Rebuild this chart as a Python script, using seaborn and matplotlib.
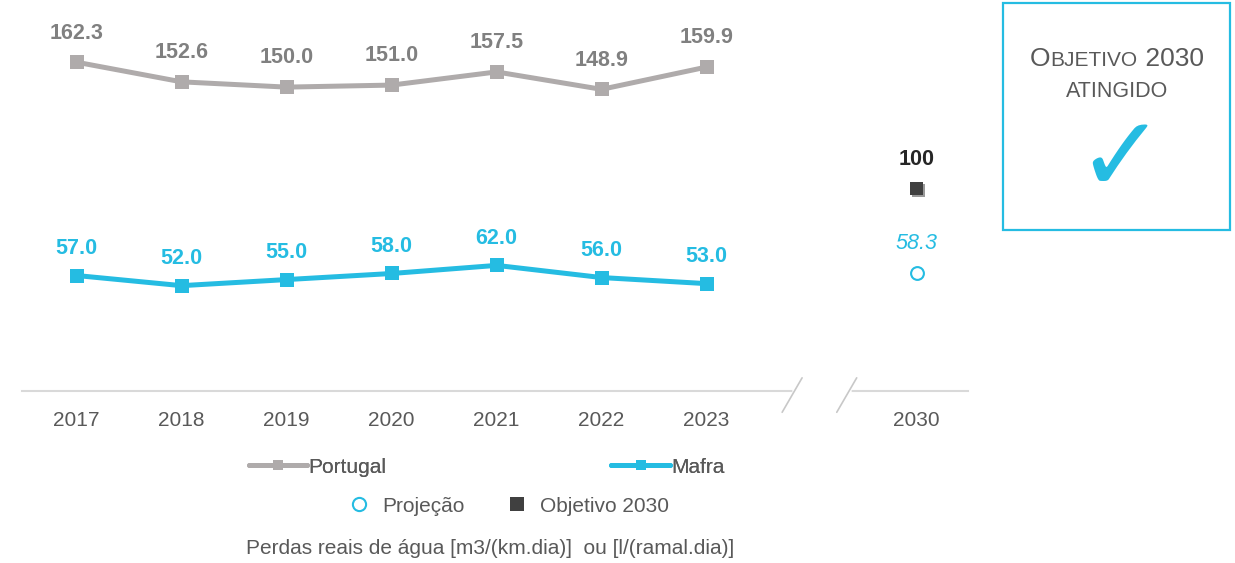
import pandas as pd
import matplotlib
matplotlib.use('Agg')
import matplotlib.pyplot as plt
import matplotlib.patheffects as pe
from matplotlib.lines import Line2D
from matplotlib.patches import Rectangle
from matplotlib.offsetbox import TextArea, HPacker, AnnotationBbox
import seaborn as sns

# Dados
anos = ['2017', '2018', '2019', '2020', '2021', '2022', '2023']
portugal = [162.3, 152.6, 150.0, 151.0, 157.5, 148.9, 159.9]
mafra = [57.0, 52.0, 55.0, 58.0, 62.0, 56.0, 53.0]
ano_meta = '2030'
projecao = [58.3]
objetivo = [100]

COR_PT = '#AFABAB'
COR_PT_TXT = '#808080'
COR_MF = '#25BCE2'
COR_OBJ = '#404040'
COR_TXT = '#595959'

sns.set_theme(style='white')
plt.rcParams['font.family'] = ['Liberation Sans', 'DejaVu Sans']

pos = list(range(len(anos)))
pos_meta = len(anos) + 1

df = pd.DataFrame({
    'pos': pos * 2,
    'valor': portugal + mafra,
    'serie': ['Portugal'] * len(anos) + ['Mafra'] * len(anos),
})

fig = plt.figure(figsize=(12.35, 5.63), dpi=100)
ax = fig.add_axes([0.0178, 0.3055, 0.7660, 0.6945])

sns.lineplot(data=df, x='pos', y='valor', hue='serie',
             palette={'Portugal': COR_PT, 'Mafra': COR_MF},
             marker='s', markersize=10, markeredgewidth=0, linewidth=3.6,
             legend=False, ax=ax)

df_meta = pd.DataFrame({'pos': [pos_meta], 'proj': projecao, 'obj': objetivo})
sns.scatterplot(data=df_meta, x='pos', y='proj', marker='o', s=85,
                facecolor='white', edgecolor=COR_MF, linewidth=1.5, ax=ax, zorder=4)
sns.scatterplot(data=df_meta, x='pos', y='obj', marker='s', s=85,
                color=COR_OBJ, linewidth=0, ax=ax, zorder=4)
ax.collections[-1].set_path_effects([pe.SimplePatchShadow(offset=(1.5, -1.5), shadow_rgbFace='#999999', alpha=1), pe.Normal()])

# rotulos de dados
for x, v in zip(pos, portugal):
    ax.annotate(f'{v:.1f}', (x, v), xytext=(0, 21), textcoords='offset points',
                ha='center', va='center', fontsize=15.5, fontweight='bold', color=COR_PT_TXT)
for x, v in zip(pos, mafra):
    ax.annotate(f'{v:.1f}', (x, v), xytext=(0, 19.5), textcoords='offset points',
                ha='center', va='center', fontsize=15.5, fontweight='bold', color=COR_MF)
ax.annotate(f'{projecao[0]:.1f}', (pos_meta, projecao[0]), xytext=(0, 21), textcoords='offset points',
            ha='center', va='center', fontsize=15.5, style='italic', color=COR_MF)
ax.annotate(f'{objetivo[0]}', (pos_meta, objetivo[0]), xytext=(0, 21), textcoords='offset points',
            ha='center', va='center', fontsize=15.5, fontweight='bold', color='#262626')

ax.set_xlim(-0.52, 8.49)
ax.set_ylim(0, 193)
ax.set_xticks(pos + [pos_meta])
ax.set_xticklabels(anos + [ano_meta])
ax.tick_params(axis='x', length=0, pad=14.5, labelsize=15, labelcolor=COR_TXT)
ax.set_yticks([])
ax.set_xlabel('')
ax.set_ylabel('')
for s in ['left', 'right', 'top']:
    ax.spines[s].set_visible(False)
ax.spines['bottom'].set_color('#D9D9D9')
ax.spines['bottom'].set_linewidth(1.5)

# quebra do eixo
ax.plot([6.84, 7.36], [0, 0], color='white', linewidth=4, clip_on=False, zorder=5)
for x0 in [6.72, 7.24]:
    ax.plot([x0, x0 + 0.19], [-10.5, 6.5], color='#C8C8C8', linewidth=1.2, clip_on=False, zorder=6)

# legendas
h_pt = Line2D([], [], color=COR_PT, linewidth=3.6, marker='s', markersize=7, markeredgewidth=0)
h_mf = Line2D([], [], color=COR_MF, linewidth=3.6, marker='s', markersize=7, markeredgewidth=0)
leg1 = fig.legend([h_pt, h_mf], ['Portugal', 'Mafra'], ncol=2, loc='center',
                  bbox_to_anchor=(0.394, 0.1705), frameon=False, fontsize=15,
                  handlelength=2.8, handletextpad=0.05, columnspacing=10.8,
                  numpoints=1, labelcolor=COR_TXT)
h_pr = Line2D([], [], linestyle='none', marker='o', markersize=9.5, markerfacecolor='white',
              markeredgecolor=COR_MF, markeredgewidth=1.5)
h_ob = Line2D([], [], linestyle='none', marker='s', markersize=9.5, color=COR_OBJ, markeredgewidth=0)
fig.legend([h_pr, h_ob], ['Projeção', 'Objetivo 2030'], ncol=2, loc='center',
           bbox_to_anchor=(0.412, 0.101), frameon=False, fontsize=15,
           handlelength=1.0, handletextpad=0.6, columnspacing=2.0,
           labelcolor=COR_TXT)
fig.add_artist(leg1)

fig.text(0.397, 0.025, 'Perdas reais de água [m3/(km.dia)]  ou [l/(ramal.dia)]',
         ha='center', va='center', fontsize=15, color=COR_TXT)

# caixa do objetivo
fig.add_artist(Rectangle((0.8125, 0.5915), 0.1838, 0.4032, transform=fig.transFigure,
                         facecolor='none', edgecolor=COR_MF, linewidth=1.6))
titulo = HPacker(children=[TextArea('O', textprops=dict(fontsize=19, color=COR_TXT)),
                           TextArea('BJETIVO', textprops=dict(fontsize=15, color=COR_TXT)),
                           TextArea(' 2030', textprops=dict(fontsize=19, color=COR_TXT))],
                 align='baseline', pad=0, sep=0)
fig.add_artist(AnnotationBbox(titulo, (0.9045, 0.895), xycoords='figure fraction',
                              frameon=False, box_alignment=(0.5, 0.5)))
fig.text(0.9045, 0.838, 'ATINGIDO', ha='center', va='center', fontsize=15.5, color=COR_TXT)
fig.text(0.907, 0.712, '\u2713', ha='center', va='center', fontsize=76,
         color=COR_MF, family='DejaVu Sans')

fig.savefig('out.png', dpi=100)
